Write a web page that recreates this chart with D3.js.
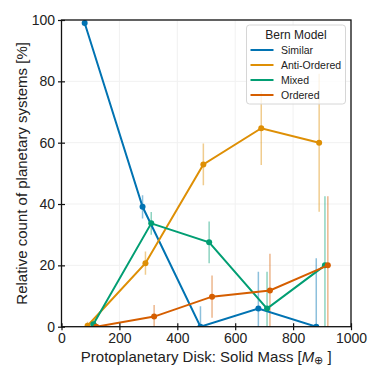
<!DOCTYPE html>
<html>
<head>
<meta charset="utf-8">
<script src="https://cdn.jsdelivr.net/npm/d3@7"></script>
<style>
  body { margin: 0; background: #fff; }
  svg text { font-family: "Liberation Sans", Arial, sans-serif; fill: #222; }
</style>
</head>
<body>
<svg id="vis"></svg>
<script>
// bin x positions (dodged per series), values in % and error half-widths
const seriesNames = ['Similar', 'Anti-Ordered', 'Mixed', 'Ordered'];
const seriesColours = ['#0173b2', '#de8f05', '#029e73', '#d55e00'];

const similarX = [80, 280, 480, 680, 880];
const similarY = [99.0, 39.1, 0.0, 5.9, 0.0];
const similarErr = [1.0, 3.8, 6.7, 12.0, 22.3];

const antiX = [90, 290, 490, 690, 890];
const antiY = [0.3, 20.7, 52.9, 64.7, 60.0];
const antiErr = [1.3, 3.8, 6.8, 12.0, 22.5];

const mixedX = [110, 310, 510, 710, 910];
const mixedY = [0.8, 33.7, 27.5, 5.9, 20.0];
const mixedErr = [1.2, 3.7, 6.8, 12.0, 22.5];

const orderedX = [120, 320, 520, 720, 920];
const orderedY = [0.0, 3.3, 9.8, 11.8, 20.0];
const orderedErr = [1.2, 3.8, 6.9, 12.0, 22.5];

const xTicks = [0, 200, 400, 600, 800, 1000];
const yTicks = [0, 20, 40, 60, 80, 100];

const WIDTH = 382;
const HEIGHT = 382;

function buildSeries() {
    var xs = [similarX, antiX, mixedX, orderedX];
    var ys = [similarY, antiY, mixedY, orderedY];
    var es = [similarErr, antiErr, mixedErr, orderedErr];
    return seriesNames.map(function(name, i) {
        return {
            name: name,
            colour: seriesColours[i],
            points: xs[i].map(function(x, j) { return {x: x, y: ys[i][j], e: es[i][j]}; })
        };
    });
}

function drawChart() {
    var svg = d3.select('#vis').attr('width', WIDTH).attr('height', HEIGHT);
    var plot = {left: 61.5, right: 351, top: 20, bottom: 326.7};

    var x = d3.scaleLinear().domain([0, 1000]).range([plot.left, plot.right]);
    var y = d3.scaleLinear().domain([0, 100]).range([plot.bottom, plot.top]);

    svg.append('defs').append('clipPath').attr('id', 'plot-clip')
        .append('rect')
        .attr('x', plot.left).attr('y', plot.top)
        .attr('width', plot.right - plot.left).attr('height', plot.bottom - plot.top);

    // faint grid
    var grid = svg.append('g');
    xTicks.forEach(function(t) {
        grid.append('line').attr('x1', x(t)).attr('x2', x(t))
            .attr('y1', plot.top).attr('y2', plot.bottom)
            .attr('stroke', '#f1f1f1').attr('stroke-width', 1);
    });
    yTicks.forEach(function(t) {
        grid.append('line').attr('x1', plot.left).attr('x2', plot.right)
            .attr('y1', y(t)).attr('y2', y(t))
            .attr('stroke', '#f1f1f1').attr('stroke-width', 1);
    });

    var series = buildSeries();
    var body = svg.append('g').attr('clip-path', 'url(#plot-clip)');

    // error bars under everything
    series.forEach(function(s) {
        body.append('g').selectAll('line').data(s.points).join('line')
            .attr('x1', d => x(d.x)).attr('x2', d => x(d.x))
            .attr('y1', d => y(d.y - d.e)).attr('y2', d => y(d.y + d.e))
            .attr('stroke', s.colour).attr('stroke-opacity', 0.45)
            .attr('stroke-width', 1.5);
    });

    var line = d3.line().x(d => x(d.x)).y(d => y(d.y));
    series.forEach(function(s) {
        var g = body.append('g');
        g.append('path').datum(s.points).attr('d', line)
            .attr('fill', 'none').attr('stroke', s.colour).attr('stroke-width', 2);
        g.selectAll('circle').data(s.points).join('circle')
            .attr('cx', d => x(d.x)).attr('cy', d => y(d.y)).attr('r', 3)
            .attr('fill', s.colour);
    });

    // frame
    svg.append('rect')
        .attr('x', plot.left).attr('y', plot.top)
        .attr('width', plot.right - plot.left).attr('height', plot.bottom - plot.top)
        .attr('fill', 'none').attr('stroke', '#111').attr('stroke-width', 1.3);

    // axes with ticks crossing the spine
    var xAxis = svg.append('g').attr('transform', 'translate(0,' + plot.bottom + ')')
        .call(d3.axisBottom(x).tickValues(xTicks).tickSize(3.5).tickPadding(3).tickFormat(d3.format('d')));
    var yAxis = svg.append('g').attr('transform', 'translate(' + plot.left + ',0)')
        .call(d3.axisLeft(y).tickValues(yTicks).tickSize(3.5).tickPadding(3).tickFormat(d3.format('d')));
    [xAxis, yAxis].forEach(function(a) {
        a.select('.domain').remove();
        a.selectAll('.tick line').attr('stroke', '#111').attr('stroke-width', 1.2);
        a.selectAll('.tick text').attr('font-size', 14).attr('fill', '#222')
            .attr('font-family', '"Liberation Sans", Arial, sans-serif');
    });
    xAxis.selectAll('.tick line').attr('y1', -3.5);
    yAxis.selectAll('.tick line').attr('x1', 3.5);

    // axis labels
    var xl = svg.append('text').attr('x', (plot.left + plot.right) / 2).attr('y', 362)
        .attr('text-anchor', 'middle').attr('font-size', 15);
    xl.append('tspan').text('Protoplanetary Disk: Solid Mass [');
    xl.append('tspan').attr('font-style', 'italic').text('M');
    xl.append('tspan').attr('font-size', 10.5).attr('dy', 2).text('\u2295');
    xl.append('tspan').attr('dy', -2).text(' ]');

    svg.append('text')
        .attr('transform', 'translate(27,' + (plot.top + plot.bottom) / 2 + ') rotate(-90)')
        .attr('text-anchor', 'middle').attr('font-size', 15)
        .text('Relative count of planetary systems [%]');

    // legend
    var lg = svg.append('g').attr('transform', 'translate(246.5,25)');
    lg.append('rect').attr('width', 99).attr('height', 79).attr('rx', 3)
        .attr('fill', 'white').attr('fill-opacity', 0.8)
        .attr('stroke', '#d6d6d6').attr('stroke-width', 1);
    lg.append('text').attr('x', 49.5).attr('y', 13.5).attr('text-anchor', 'middle')
        .attr('font-size', 12).text('Bern Model');
    series.forEach(function(s, i) {
        var ly = 25 + i * 15;
        lg.append('line').attr('x1', 4).attr('x2', 27).attr('y1', ly).attr('y2', ly)
            .attr('stroke', s.colour).attr('stroke-width', 2);
        lg.append('text').attr('x', 34.5).attr('y', ly + 3.7).attr('font-size', 10.5).text(s.name);
    });
}

drawChart();
</script>
</body>
</html>
